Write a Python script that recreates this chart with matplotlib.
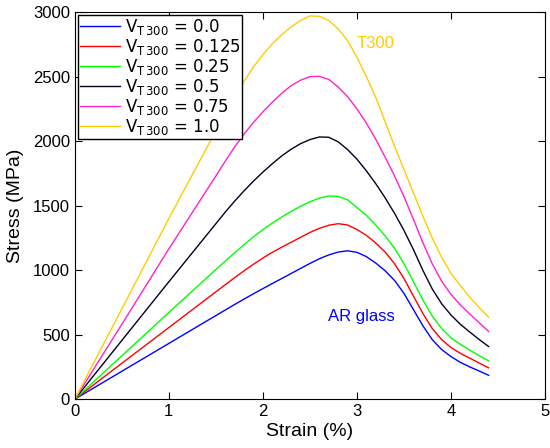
import matplotlib.pyplot as plt
import numpy as np

strain = [0, 0.5, 1.0, 1.5, 1.6, 1.7, 1.8, 1.9, 2.0, 2.1, 2.2, 2.3, 2.4, 2.5, 2.6, 2.7, 2.8,
          2.9, 3.0, 3.1, 3.2, 3.3, 3.4, 3.5, 3.6, 3.7, 3.8, 3.9, 4.0, 4.1, 4.2, 4.3, 4.4]

v00 = [0, 216, 432, 648, 691, 734, 776, 817, 857, 896, 935, 974, 1013, 1052, 1088, 1118, 1140,
       1150, 1138, 1105, 1055, 995, 920, 820, 695, 570, 462, 385, 330, 285, 250, 218, 185]
v0125 = [0, 278, 555, 832, 887, 942, 995, 1046, 1094, 1138, 1178, 1216, 1254, 1292, 1324, 1348, 1360,
         1350, 1315, 1270, 1210, 1140, 1050, 935, 800, 665, 548, 462, 400, 355, 318, 280, 243]
v025 = [0, 336, 672, 1005, 1070, 1135, 1198, 1258, 1314, 1365, 1412, 1455, 1495, 1530, 1558, 1575, 1572,
        1545, 1485, 1425, 1350, 1265, 1170, 1050, 912, 770, 645, 548, 475, 425, 380, 337, 297]
v05 = [0, 455, 910, 1360, 1450, 1535, 1615, 1690, 1760, 1825, 1885, 1937, 1980, 2012, 2032, 2030, 1995,
       1935, 1860, 1770, 1670, 1560, 1440, 1308, 1160, 1000, 855, 740, 652, 580, 520, 462, 408]
v075 = [0, 580, 1165, 1730, 1845, 1955, 2055, 2145, 2227, 2302, 2370, 2430, 2472, 2500, 2502, 2478, 2420,
        2345, 2250, 2140, 2015, 1875, 1730, 1570, 1395, 1215, 1050, 915, 812, 730, 660, 592, 525]
v10 = [0, 700, 1400, 2080, 2215, 2345, 2465, 2575, 2670, 2755, 2825, 2885, 2935, 2970, 2968, 2935, 2870,
       2780, 2650, 2500, 2340, 2150, 1960, 1780, 1600, 1420, 1250, 1100, 975, 880, 790, 710, 635]

series = [v00, v0125, v025, v05, v075, v10]
fractions = ['0.0', '0.125', '0.25', '0.5', '0.75', '1.0']
colors = ['#0000ff', '#ff0000', '#00ff00', '#000022', '#ff22cc', '#ffcc00']

plt.rcParams['font.family'] = ['Liberation Sans', 'DejaVu Sans']

fig = plt.figure(figsize=(5.5, 4.48), dpi=100)
ax = fig.add_axes([0.136, 0.109, 0.855, 0.864])

for vals, frac, col in zip(series, fractions, colors):
    ax.plot(strain, vals, color=col, lw=1.0,
            label=r'$\mathregular{V_{T\,300}}$ = ' + frac)

ax.set_xlim(0, 5)
ax.set_ylim(0, 3000)
ax.set_xticks(np.arange(0, 6, 1))
ax.set_yticks(np.arange(0, 3001, 500))
ax.tick_params(direction='in', top=True, right=True, length=5, labelsize=12)
ax.set_xlabel('Strain (%)', fontsize=14, labelpad=3)
ax.set_ylabel('Stress (MPa)', fontsize=14, labelpad=6)

ax.text(3.2, 2760, 'T300', color='#ffcc00', fontsize=12, ha='center', va='center')
ax.text(3.05, 640, 'AR glass', color='#0000ff', fontsize=12, ha='center', va='center')

leg = ax.legend(loc='upper left', prop={'family': 'DejaVu Sans', 'size': 12},
                labelspacing=0.0, handlelength=2.4, handletextpad=0.3,
                borderpad=0.1, borderaxespad=0.2, fancybox=False, framealpha=1)
leg.get_frame().set_edgecolor('black')
leg.get_frame().set_linewidth(1.0)

fig.savefig('out.png', dpi=100)
